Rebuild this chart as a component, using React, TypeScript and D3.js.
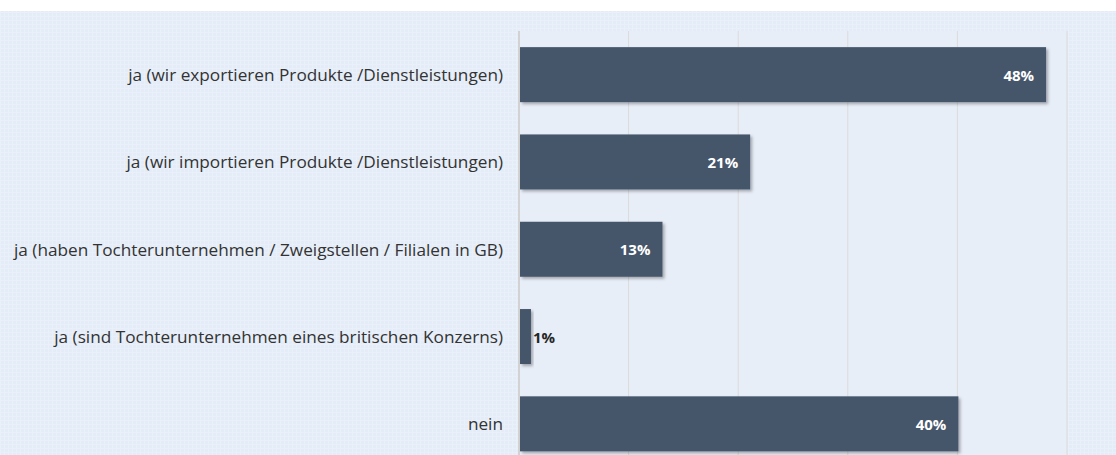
import React, { useEffect, useRef } from 'react';
import * as d3 from 'd3';

const categories = [
  'ja (wir exportieren Produkte /Dienstleistungen)',
  'ja (wir importieren Produkte /Dienstleistungen)',
  'ja (haben Tochterunternehmen / Zweigstellen / Filialen in GB)',
  'ja (sind Tochterunternehmen eines britischen Konzerns)',
  'nein',
];
const values = [48, 21, 13, 1, 40];
const xTicks = [0, 10, 20, 30, 40, 50];

const WIDTH = 1116;
const HEIGHT = 455;

export default function App() {
  const svgRef = useRef<SVGSVGElement>(null);

  useEffect(() => {
    if (!svgRef.current) return;
    document.body.style.margin = '0';

    const svg = d3.select(svgRef.current);
    svg.selectAll('*').remove();

    const margin = { top: 31, left: 519, right: 49 };
    const plotW = WIDTH - margin.left - margin.right;
    const step = 87.3;
    const plotH = step * categories.length;

    const defs = svg.append('defs');

    // Fine grid texture for the outer background
    const pat = defs
      .append('pattern')
      .attr('id', 'bg-grid')
      .attr('width', 4)
      .attr('height', 4)
      .attr('patternUnits', 'userSpaceOnUse');
    pat.append('rect').attr('width', 4).attr('height', 4).attr('fill', '#e3ecf7');
    pat
      .append('path')
      .attr('d', 'M0,0.5H4M0.5,0V4')
      .attr('stroke', '#e9f0f9')
      .attr('stroke-width', 1);

    const shadow = defs
      .append('filter')
      .attr('id', 'bar-shadow')
      .attr('x', '-10%')
      .attr('y', '-10%')
      .attr('width', '130%')
      .attr('height', '140%');
    shadow
      .append('feDropShadow')
      .attr('dx', 2)
      .attr('dy', 2)
      .attr('stdDeviation', 1.8)
      .attr('flood-color', '#000')
      .attr('flood-opacity', 0.3);

    // Background
    svg
      .append('rect')
      .attr('x', 0)
      .attr('y', 11)
      .attr('width', WIDTH)
      .attr('height', HEIGHT - 11)
      .attr('fill', 'url(#bg-grid)');

    const g = svg.append('g').attr('transform', `translate(${margin.left},${margin.top})`);

    // Plot area
    g.append('rect')
      .attr('x', 0)
      .attr('y', 0)
      .attr('width', plotW)
      .attr('height', plotH)
      .attr('fill', '#e8eef8');

    const x = d3.scaleLinear().domain([0, 50]).range([0, plotW]);
    const y = d3
      .scaleBand()
      .domain(categories)
      .range([0, plotH])
      .paddingInner(0.37)
      .paddingOuter(0.185);

    // Gridlines
    g.selectAll('.grid')
      .data(xTicks)
      .enter()
      .append('line')
      .attr('x1', (d) => x(d))
      .attr('x2', (d) => x(d))
      .attr('y1', 0)
      .attr('y2', plotH)
      .attr('stroke', (d) => (d === 0 ? '#d2d2d2' : '#dadada'))
      .attr('stroke-width', (d) => (d === 0 ? 2 : 1));

    // Bars
    g.selectAll('.bar')
      .data(values)
      .enter()
      .append('rect')
      .attr('x', x(0) + 1)
      .attr('y', (_, i) => y(categories[i]) || 0)
      .attr('width', (d) => x(d) - x(0))
      .attr('height', y.bandwidth())
      .attr('fill', '#44546a')
      .attr('filter', 'url(#bar-shadow)');

    // Category labels
    g.selectAll('.label')
      .data(categories)
      .enter()
      .append('text')
      .attr('x', -16)
      .attr('y', (d) => (y(d) || 0) + y.bandwidth() / 2)
      .attr('text-anchor', 'end')
      .attr('dominant-baseline', 'central')
      .attr('fill', '#333333')
      .attr('font-family', '"Open Sans", sans-serif')
      .attr('font-size', '17.2px')
      .text((d) => d);

    // Value labels
    g.selectAll('.value')
      .data(values)
      .enter()
      .append('text')
      .attr('x', (d) => (d < 5 ? x(d) + 3 : x(d) - 11))
      .attr('y', (_, i) => (y(categories[i]) || 0) + y.bandwidth() / 2)
      .attr('text-anchor', (d) => (d < 5 ? 'start' : 'end'))
      .attr('dominant-baseline', 'central')
      .attr('fill', (d) => (d < 5 ? '#262626' : '#ffffff'))
      .attr('font-family', '"Open Sans", sans-serif')
      .attr('font-weight', 'bold')
      .attr('font-size', '15px')
      .text((d) => `${d}%`);
  }, []);

  return (
    <svg
      ref={svgRef}
      width={WIDTH}
      height={HEIGHT}
      style={{ display: 'block', position: 'absolute', left: 0, top: 0 }}
    />
  );
}
